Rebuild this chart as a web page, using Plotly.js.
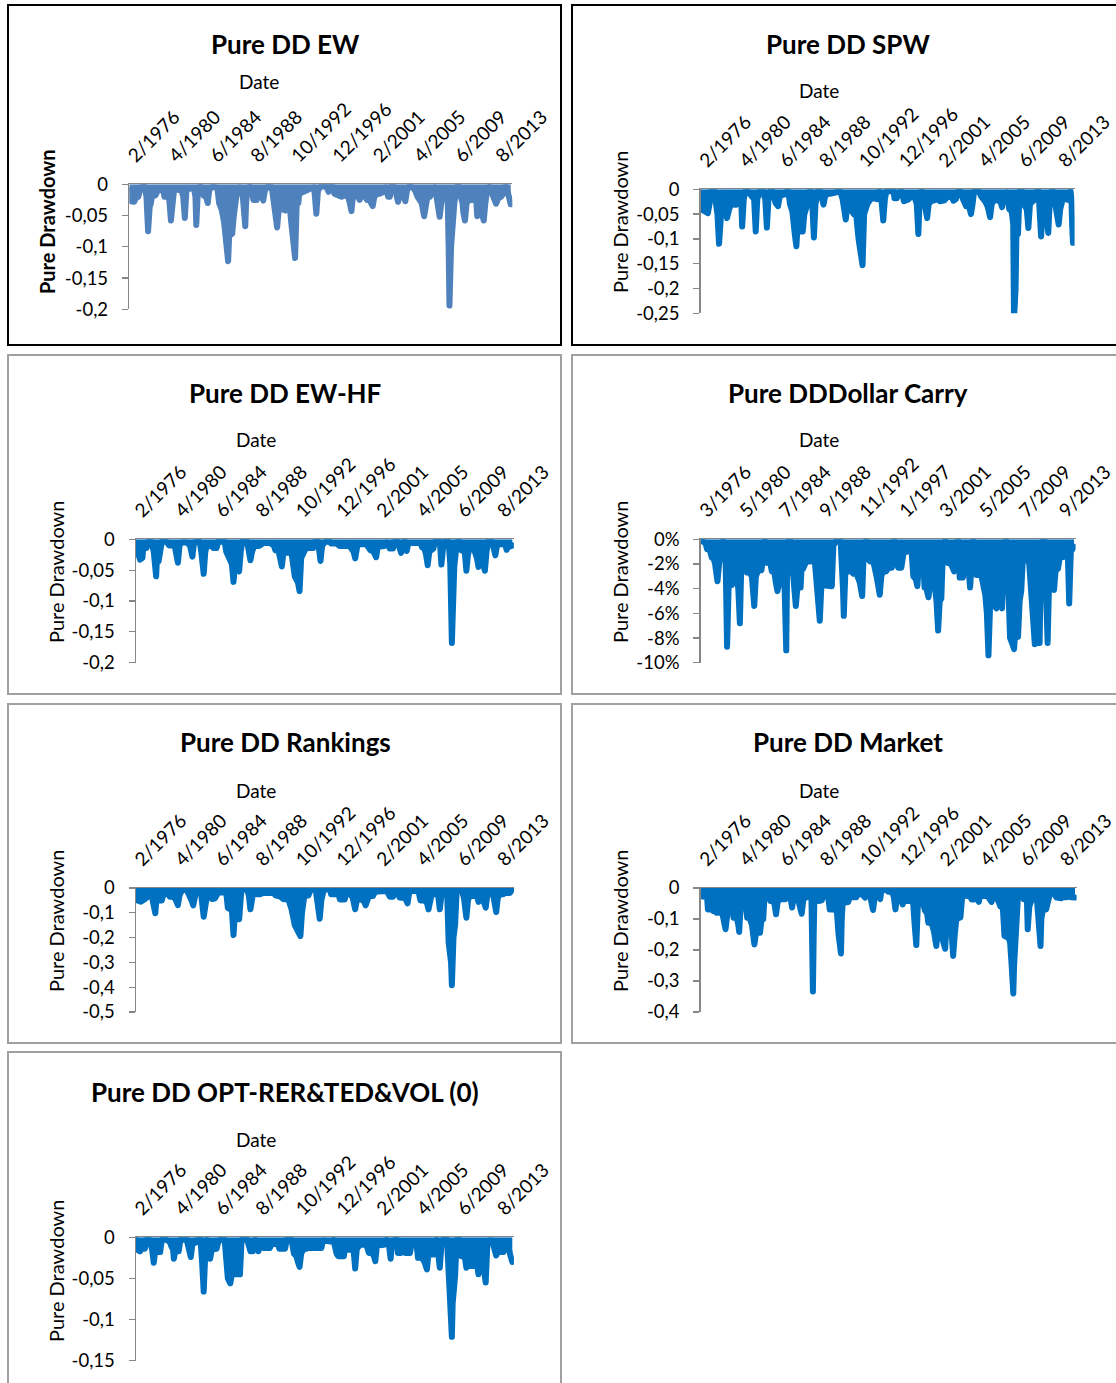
<!DOCTYPE html>
<html>
<head>
<meta charset="utf-8">
<script src="https://cdn.plot.ly/plotly-3.0.1.min.js"></script>
<style>html,body{margin:0;padding:0;background:#fff;}#chart{width:1116px;height:1383px;}</style>
</head>
<body>
<div id="chart"></div>
<script>
// ---------- x tick labels (monthly category axis, one label every 50 months) ----------
const tickMonths = [0, 50, 100, 150, 200, 250, 300, 350, 400, 450];
const tickLabelsFeb = ['2/1976','4/1980','6/1984','8/1988','10/1992','12/1996','2/2001','4/2005','6/2009','8/2013'];
const tickLabelsMar = ['3/1976','5/1980','7/1984','9/1988','11/1992','1/1997','3/2001','5/2005','7/2009','9/2013'];

// ---------- y ticks ----------
const yTicksA = [0, -0.05, -0.1, -0.15, -0.2];
const yTextA = ['0', '-0,05', '-0,1', '-0,15', '-0,2'];
const yTicksSPW = [0, -0.05, -0.1, -0.15, -0.2, -0.25];
const yTextSPW = ['0', '-0,05', '-0,1', '-0,15', '-0,2', '-0,25'];
const yTicksCarry = [0, -2, -4, -6, -8, -10];
const yTextCarry = ['0%', '-2%', '-4%', '-6%', '-8%', '-10%'];
const yTicksRank = [0, -0.1, -0.2, -0.3, -0.4, -0.5];
const yTextRank = ['0', '-0,1', '-0,2', '-0,3', '-0,4', '-0,5'];
const yTicksMkt = [0, -0.1, -0.2, -0.3, -0.4];
const yTextMkt = ['0', '-0,1', '-0,2', '-0,3', '-0,4'];
const yTicksOpt = [0, -0.05, -0.1, -0.15];
const yTextOpt = ['0', '-0,05', '-0,1', '-0,15'];

// ---------- Pure DD EW (month index from first month, drawdown) ----------
const ewMonth = [0,2,6,8,11,14,17,19,21,23,25,26,28,32,35,38,42,43,47,49,51,53,55,57,62,64,66,68,70,75,79,81,82,84,87,89,91,94,96,98,102,106,108,110,113,116,119,121,123,125,126,128,130,132,135,137,139,142,143,145,148,150,152,156,158,160,164,166,170,173,175,177,179,181,183,185,187,191,193,196,199,203,205,207,208,213,217,223,226,227,229,231,234,241,242,244,246,249,251,255,260,264,268,270,272,274,276,280,282,284,287,291,293,296,298,300,304,307,311,314,316,317,319,321,324,326,329,331,333,336,338,340,343,347,350,353,356,358,361,363,365,368,371,374,375,377,379,380,382,385,388,390,391,392,394,396,398,401,404,406,408,409,411,413,416,420,423,425,426,428,430,432,434,436,438,441,443,446,449,452,455,458,459,461,463,465,467];
const ewDD = [-0.01,-0.027,-0.028,-0.022,-0.02,-0.005,-0.004,-0.004,-0.02,-0.075,-0.035,-0.033,-0.018,-0.018,-0.01,-0.008,-0.012,-0.02,-0.02,-0.025,-0.058,-0.03,-0.006,-0.008,-0.008,-0.01,-0.02,-0.054,-0.008,-0.006,-0.006,-0.02,-0.065,-0.01,-0.003,-0.006,-0.018,-0.02,-0.03,-0.008,-0.004,-0.005,-0.008,-0.03,-0.04,-0.06,-0.09,-0.123,-0.06,-0.08,-0.079,-0.05,-0.035,-0.01,-0.005,-0.008,-0.02,-0.067,-0.03,-0.005,-0.004,-0.01,-0.025,-0.025,-0.008,-0.012,-0.026,-0.01,-0.003,-0.003,-0.01,-0.03,-0.04,-0.069,-0.04,-0.02,-0.04,-0.042,-0.03,-0.03,-0.07,-0.118,-0.03,-0.03,-0.015,-0.013,-0.01,-0.006,-0.005,-0.015,-0.047,-0.01,-0.004,-0.003,-0.01,-0.012,-0.004,-0.004,-0.015,-0.017,-0.02,-0.018,-0.02,-0.03,-0.043,-0.015,-0.01,-0.02,-0.025,-0.02,-0.012,-0.025,-0.022,-0.03,-0.035,-0.02,-0.015,-0.015,-0.012,-0.005,-0.015,-0.02,-0.02,-0.003,-0.004,-0.01,-0.028,-0.02,-0.01,-0.02,-0.027,-0.01,-0.003,-0.005,-0.01,-0.02,-0.025,-0.03,-0.051,-0.035,-0.02,-0.02,-0.012,-0.005,-0.01,-0.025,-0.035,-0.052,-0.03,-0.01,-0.008,-0.03,-0.1,-0.194,-0.1,-0.046,-0.03,-0.004,-0.004,-0.02,-0.03,-0.045,-0.058,-0.03,-0.025,-0.025,-0.02,-0.03,-0.051,-0.03,-0.04,-0.05,-0.058,-0.03,-0.01,-0.004,-0.01,-0.02,-0.031,-0.022,-0.02,-0.015,-0.008,-0.003,-0.01,-0.02,-0.032];

// ---------- Pure DD SPW ----------
const spwMonth = [0,1,4,8,9,11,13,17,19,21,23,25,26,29,31,33,35,36,39,42,43,45,47,49,51,52,54,56,59,62,65,67,69,71,74,78,81,83,85,87,90,92,94,97,99,102,106,108,110,112,115,118,120,122,125,126,128,130,133,136,138,140,142,144,147,150,152,154,156,158,165,171,175,178,180,182,184,186,189,192,193,195,198,201,203,205,207,209,213,217,221,224,226,227,229,231,233,242,243,246,248,252,255,258,261,264,268,271,273,275,278,280,284,286,289,294,297,300,306,308,311,314,317,320,323,326,329,333,336,339,341,343,349,352,357,360,363,365,369,374,376,378,380,384,387,390,392,393,395,396,398,400,403,405,408,409,411,413,416,420,422,424,425,427,429,432,434,436,438,440,442,444,447,449,451,454,458,462,464,465,466,467];
const spwDD = [-0.02,-0.041,-0.043,-0.045,-0.048,-0.03,-0.004,-0.004,-0.02,-0.05,-0.11,-0.05,-0.04,-0.04,-0.03,-0.058,-0.04,-0.038,-0.03,-0.01,-0.031,-0.031,-0.02,-0.015,-0.03,-0.075,-0.02,-0.004,-0.004,-0.01,-0.015,-0.02,-0.085,-0.02,-0.004,-0.004,-0.02,-0.077,-0.02,-0.004,-0.004,-0.026,-0.028,-0.034,-0.015,-0.012,-0.01,-0.004,-0.004,-0.03,-0.045,-0.09,-0.115,-0.06,-0.07,-0.085,-0.085,-0.05,-0.035,-0.005,-0.004,-0.03,-0.097,-0.03,-0.004,-0.004,-0.02,-0.031,-0.015,-0.01,-0.008,-0.004,-0.004,-0.02,-0.04,-0.061,-0.03,-0.035,-0.048,-0.05,-0.048,-0.05,-0.1,-0.13,-0.153,-0.05,-0.034,-0.03,-0.02,-0.018,-0.02,-0.004,-0.01,-0.03,-0.063,-0.02,-0.004,-0.004,-0.018,-0.018,-0.006,-0.004,-0.024,-0.022,-0.02,-0.014,-0.014,-0.03,-0.09,-0.006,-0.005,-0.02,-0.058,-0.03,-0.024,-0.022,-0.01,-0.024,-0.022,-0.018,-0.014,-0.012,-0.023,-0.02,-0.004,-0.004,-0.02,-0.034,-0.03,-0.05,-0.03,-0.004,-0.004,-0.015,-0.025,-0.035,-0.056,-0.03,-0.02,-0.022,-0.025,-0.036,-0.01,-0.006,-0.04,-0.044,-0.07,-0.26,-0.2,-0.09,-0.09,-0.004,-0.004,-0.03,-0.035,-0.04,-0.078,-0.03,-0.025,-0.02,-0.004,-0.004,-0.04,-0.095,-0.035,-0.04,-0.06,-0.088,-0.02,-0.004,-0.004,-0.03,-0.045,-0.071,-0.04,-0.02,-0.02,-0.022,-0.004,-0.02,-0.075,-0.108];

// ---------- Pure DD EW-HF ----------
const ewhfMonth = [0,2,5,8,9,13,15,19,22,25,26,28,30,32,38,41,48,50,52,54,57,63,67,70,72,75,79,81,84,86,88,90,94,96,100,102,110,112,115,119,121,123,125,128,130,132,138,141,142,144,147,151,154,158,166,171,173,177,179,181,183,187,193,197,201,203,205,208,211,220,222,226,228,229,231,235,241,242,249,253,265,270,272,274,275,286,291,294,298,300,303,308,311,315,319,321,325,327,329,331,334,336,338,340,353,355,358,360,362,364,367,369,371,377,378,379,381,383,388,390,392,393,395,397,399,402,404,408,410,412,414,419,421,423,425,426,429,431,433,435,437,442,443,446,448,452,458,460,462,464,467];
const ewhfDD = [-0.01,-0.02,-0.033,-0.03,-0.014,-0.014,-0.004,-0.004,-0.02,-0.06,-0.03,-0.036,-0.02,-0.004,-0.004,-0.01,-0.01,-0.02,-0.038,-0.01,-0.005,-0.005,-0.01,-0.028,-0.005,-0.004,-0.004,-0.02,-0.056,-0.02,-0.01,-0.011,-0.011,-0.014,-0.014,-0.004,-0.004,-0.02,-0.03,-0.04,-0.069,-0.04,-0.045,-0.052,-0.02,-0.004,-0.004,-0.02,-0.034,-0.02,-0.01,-0.011,-0.01,-0.006,-0.006,-0.01,-0.018,-0.019,-0.03,-0.044,-0.02,-0.022,-0.022,-0.06,-0.07,-0.084,-0.03,-0.02,-0.014,-0.014,-0.004,-0.004,-0.02,-0.035,-0.01,-0.004,-0.004,-0.007,-0.007,-0.011,-0.011,-0.02,-0.031,-0.01,-0.008,-0.008,-0.018,-0.018,-0.029,-0.012,-0.011,-0.011,-0.005,-0.015,-0.015,-0.004,-0.004,-0.015,-0.022,-0.005,-0.004,-0.019,-0.006,-0.006,-0.006,-0.013,-0.015,-0.025,-0.042,-0.02,-0.015,-0.015,-0.004,-0.004,-0.02,-0.041,-0.015,-0.004,-0.004,-0.04,-0.168,-0.08,-0.044,-0.02,-0.004,-0.004,-0.018,-0.02,-0.051,-0.025,-0.014,-0.014,-0.02,-0.03,-0.045,-0.03,-0.03,-0.04,-0.051,-0.02,-0.004,-0.004,-0.01,-0.026,-0.01,-0.008,-0.008,-0.017,-0.01,-0.012,-0.01];

// ---------- Pure DD Dollar Carry (percent) ----------
const carryMonth = [0,4,6,8,11,14,16,18,21,23,25,26,28,31,33,35,39,41,42,45,47,49,51,56,58,61,64,67,69,72,76,78,80,82,87,89,92,94,96,99,103,105,107,108,110,112,115,117,119,121,125,126,128,132,137,139,141,143,145,147,149,151,158,159,164,166,170,175,176,178,179,181,189,191,195,199,202,204,207,208,212,216,220,224,226,228,232,235,239,241,242,244,247,251,254,258,259,263,266,269,271,274,276,278,280,282,285,287,289,292,295,297,299,301,303,306,308,311,313,315,317,319,322,324,328,330,335,337,339,341,342,345,351,353,356,358,360,362,368,370,374,375,377,379,382,385,387,390,392,393,395,397,399,401,403,406,409,411,413,416,418,421,424,425,427,430,432,434,436,439,441,442,444,447,449,451,455,458,459,461,463,467];
const carryDD = [-0.1,-0.2,-0.3,-0.8,-0.8,-1.5,-1.5,-2.0,-3.4,-2.0,-0.8,-0.7,-0.1,-1.0,-8.7,-3.7,-3.7,-2.8,-2.8,-3.0,-4.0,-6.8,-1.5,-1.5,-2.7,-2.7,-3.0,-5.4,-3.0,-2.5,-2.5,-1.5,-0.1,-1.9,-1.9,-2.6,-2.6,-3.5,-4.2,-3.2,-3.2,-4.0,-9.0,-3.0,-0.1,-0.1,-2.5,-4.0,-5.4,-3.9,-3.9,-2.5,-2.4,-1.8,-1.8,-1.0,-1.0,-2.0,-4.0,-6.0,-6.6,-3.7,-3.7,-3.8,-3.8,-0.5,-0.1,-0.1,-1.0,-4.0,-6.2,-2.6,-2.6,-2.8,-2.8,-3.5,-4.6,-1.0,-0.1,-1.5,-1.8,-1.8,-3.0,-4.5,-3.0,-2.6,-2.6,-2.3,-2.3,-1.8,-0.1,-1.5,-2.3,-2.3,-1.0,-1.0,-0.3,-0.3,-3.0,-3.2,-3.8,-1.2,-0.3,-1.0,-3.9,-3.9,-4.7,-3.5,-3.4,-3.4,-5.0,-7.4,-5.0,-4.8,-1.0,-0.1,-1.9,-1.9,-2.0,-2.3,-2.6,-1.0,-0.1,-3.1,-3.1,-2.3,-2.3,-3.9,-1.0,-0.1,-1.5,-2.9,-2.9,-3.5,-4.5,-6.0,-9.4,-5.4,-5.4,-5.6,-4.5,-5.0,-5.6,-2.0,-0.1,-4.0,-8.0,-8.5,-8.9,-8.0,-7.9,-7.9,-5.0,-4.2,-1.6,-1.6,-1.6,-2.0,-4.5,-7.0,-8.5,-8.4,-8.4,-4.0,-0.2,-0.1,-3.0,-8.4,-3.0,-2.8,-3.0,-4.1,-2.5,-2.4,-1.5,-1.5,-1.4,-1.0,-0.5,-5.2,-1.0,-0.6];

// ---------- Pure DD Rankings ----------
const rankMonth = [0,2,6,9,11,13,15,18,20,22,24,25,27,32,34,38,41,42,46,49,52,54,57,63,67,69,71,73,75,79,81,84,86,88,92,94,98,100,102,108,110,112,114,119,121,123,125,126,128,130,131,138,140,142,144,146,148,150,154,158,171,173,179,183,189,193,197,199,201,204,206,208,209,214,217,223,225,228,230,233,241,242,249,250,253,259,261,265,269,272,274,275,280,283,285,287,289,294,297,308,312,315,319,322,325,327,334,337,339,342,348,351,353,358,361,363,365,367,371,373,375,377,379,381,386,388,391,392,394,396,398,404,407,408,410,412,414,421,424,425,427,429,432,434,436,437,442,444,447,449,452,456,458,460,464,467];
const rankDD = [-0.01,-0.05,-0.055,-0.052,-0.045,-0.04,-0.008,-0.008,-0.04,-0.07,-0.102,-0.06,-0.05,-0.05,-0.025,-0.025,-0.008,-0.035,-0.035,-0.045,-0.069,-0.03,-0.008,-0.008,-0.03,-0.05,-0.07,-0.03,-0.006,-0.006,-0.03,-0.116,-0.05,-0.032,-0.032,-0.044,-0.042,-0.03,-0.018,-0.018,-0.006,-0.02,-0.08,-0.09,-0.19,-0.09,-0.1,-0.11,-0.126,-0.04,-0.006,-0.006,-0.03,-0.086,-0.03,-0.006,-0.006,-0.025,-0.025,-0.02,-0.02,-0.03,-0.035,-0.045,-0.045,-0.085,-0.15,-0.16,-0.18,-0.194,-0.1,-0.065,-0.03,-0.03,-0.006,-0.006,-0.05,-0.124,-0.05,-0.006,-0.006,-0.025,-0.025,-0.006,-0.046,-0.046,-0.02,-0.02,-0.04,-0.086,-0.05,-0.046,-0.046,-0.055,-0.07,-0.04,-0.032,-0.032,-0.015,-0.012,-0.015,-0.035,-0.035,-0.006,-0.01,-0.038,-0.04,-0.062,-0.02,-0.012,-0.012,-0.02,-0.05,-0.05,-0.06,-0.086,-0.04,-0.025,-0.025,-0.006,-0.03,-0.086,-0.03,-0.006,-0.006,-0.22,-0.3,-0.392,-0.2,-0.15,-0.01,-0.006,-0.04,-0.08,-0.12,-0.05,-0.032,-0.032,-0.04,-0.056,-0.04,-0.04,-0.06,-0.079,-0.03,-0.018,-0.018,-0.04,-0.097,-0.04,-0.025,-0.025,-0.01,-0.02,-0.02,-0.004];

// ---------- Pure DD Market ----------
const mktMonth = [0,4,8,9,14,16,18,20,25,26,28,31,33,35,37,39,41,45,47,48,50,51,53,55,58,61,64,67,69,74,76,78,80,84,87,89,92,94,96,99,106,108,109,111,112,114,116,118,120,123,126,128,130,133,136,138,139,140,141,142,144,147,151,153,159,161,168,170,172,175,176,178,180,184,186,194,196,201,203,205,207,209,211,213,215,217,220,222,224,225,228,232,234,239,241,243,245,247,249,250,252,254,256,263,265,267,269,271,274,277,280,282,284,288,291,292,294,296,298,300,303,305,307,308,311,313,315,317,319,324,325,327,330,332,336,338,341,342,344,347,349,351,358,361,363,365,367,369,371,374,377,379,384,386,388,390,391,392,394,396,400,403,407,408,410,413,415,417,419,421,424,425,427,431,434,436,440,442,444,450,452,454,457,458,460,462,467];
const mktDD = [-0.026,-0.028,-0.03,-0.069,-0.069,-0.075,-0.075,-0.08,-0.08,-0.069,-0.09,-0.133,-0.09,-0.035,-0.035,-0.04,-0.096,-0.096,-0.12,-0.142,-0.05,-0.006,-0.006,-0.025,-0.096,-0.096,-0.12,-0.182,-0.144,-0.144,-0.1,-0.1,-0.01,-0.006,-0.042,-0.042,-0.05,-0.085,-0.045,-0.036,-0.036,-0.03,-0.015,-0.006,-0.03,-0.063,-0.03,-0.006,-0.02,-0.05,-0.083,-0.04,-0.03,-0.03,-0.006,-0.006,-0.2,-0.334,-0.15,-0.006,-0.006,-0.042,-0.04,-0.026,-0.026,-0.069,-0.069,-0.08,-0.15,-0.211,-0.1,-0.01,-0.047,-0.045,-0.03,-0.03,-0.02,-0.02,-0.025,-0.031,-0.015,-0.015,-0.02,-0.04,-0.071,-0.03,-0.02,-0.02,-0.036,-0.015,-0.006,-0.006,-0.012,-0.012,-0.03,-0.069,-0.03,-0.026,-0.026,-0.035,-0.053,-0.04,-0.042,-0.042,-0.046,-0.12,-0.184,-0.05,-0.046,-0.046,-0.074,-0.074,-0.112,-0.112,-0.14,-0.17,-0.187,-0.12,-0.1,-0.15,-0.19,-0.196,-0.1,-0.069,-0.069,-0.15,-0.219,-0.15,-0.1,-0.095,-0.05,-0.006,-0.01,-0.026,-0.026,-0.037,-0.037,-0.02,-0.03,-0.045,-0.02,-0.026,-0.026,-0.035,-0.045,-0.02,-0.02,-0.02,-0.04,-0.06,-0.065,-0.155,-0.16,-0.175,-0.25,-0.34,-0.25,-0.18,-0.16,-0.02,-0.006,-0.036,-0.036,-0.133,-0.06,-0.04,-0.02,-0.006,-0.02,-0.1,-0.187,-0.1,-0.069,-0.069,-0.02,-0.015,-0.015,-0.02,-0.031,-0.033,-0.02,-0.03,-0.03,-0.02,-0.02,-0.03,-0.031];

// ---------- Pure DD OPT-RER&TED&VOL (0) ----------
const optMonth = [0,1,5,7,11,13,17,20,22,24,25,30,32,38,42,44,46,47,49,50,53,55,63,65,68,70,75,77,80,82,84,86,88,90,92,94,96,100,102,104,110,112,114,117,119,121,126,129,131,138,140,142,145,148,150,152,154,158,166,169,171,176,178,185,187,193,196,199,201,203,205,208,211,214,230,232,242,245,249,251,258,259,261,270,272,274,278,286,289,292,295,297,299,303,308,311,314,316,318,322,324,325,329,332,334,340,342,348,350,355,358,361,363,365,369,371,373,375,377,379,381,386,388,390,392,393,396,398,402,404,408,410,412,414,419,422,425,426,429,432,434,436,437,442,444,447,449,452,456,458,460,462,464,467];
const optDD = [-0.003,-0.015,-0.017,-0.014,-0.014,-0.003,-0.003,-0.015,-0.031,-0.015,-0.018,-0.018,-0.003,-0.003,-0.006,-0.011,-0.015,-0.026,-0.015,-0.017,-0.017,-0.003,-0.003,-0.01,-0.024,-0.008,-0.006,-0.002,-0.002,-0.03,-0.066,-0.02,-0.003,-0.01,-0.026,-0.015,-0.014,-0.014,-0.006,-0.003,-0.003,-0.04,-0.05,-0.056,-0.045,-0.045,-0.045,-0.045,-0.003,-0.003,-0.01,-0.017,-0.017,-0.003,-0.008,-0.017,-0.005,-0.013,-0.013,-0.006,-0.008,-0.008,-0.014,-0.014,-0.003,-0.003,-0.02,-0.023,-0.03,-0.036,-0.02,-0.014,-0.014,-0.013,-0.013,-0.004,-0.005,-0.003,-0.02,-0.023,-0.023,-0.014,-0.015,-0.015,-0.038,-0.014,-0.009,-0.009,-0.019,-0.019,-0.022,-0.029,-0.01,-0.009,-0.009,-0.003,-0.01,-0.026,-0.005,-0.003,-0.003,-0.019,-0.019,-0.005,-0.019,-0.019,-0.007,-0.007,-0.025,-0.025,-0.03,-0.039,-0.02,-0.021,-0.021,-0.005,-0.003,-0.02,-0.037,-0.01,-0.003,-0.003,-0.047,-0.08,-0.121,-0.08,-0.047,-0.003,-0.003,-0.023,-0.023,-0.037,-0.03,-0.035,-0.035,-0.025,-0.045,-0.02,-0.02,-0.04,-0.055,-0.01,-0.004,-0.004,-0.01,-0.022,-0.018,-0.018,-0.018,-0.005,-0.008,-0.01,-0.02,-0.03];

// ---------- page geometry (pixels) ----------
const W = 1116, H = 1383;
const FONT = 'Lato, "Open Sans", sans-serif';
const px = x => x / W;
const py = y => 1 - y / H;
const LAST = 467, XMAX = 469;

const panels = [
  {title:'Pure DD EW', m:ewMonth, v:ewDD, color:'#4F81BD', L:129.3, R:510.7, top:184.3, bot:309.3, yr:[-0.2,0], yt:yTicksA, ytt:yTextA, xl:tickLabelsFeb, tx:285, ty:44, dx:259, dy:82, ax:47, ay:222, boldY:true},
  {title:'Pure DD SPW', m:spwMonth, v:spwDD, color:'#0070C0', L:700.7, R:1073, top:189.3, bot:313.3, yr:[-0.25,0], yt:yTicksSPW, ytt:yTextSPW, xl:tickLabelsFeb, tx:848, ty:44, dx:819, dy:91, ax:620, ay:222},
  {title:'Pure DD EW-HF', m:ewhfMonth, v:ewhfDD, color:'#0070C0', L:136, R:512.3, top:539.3, bot:662.7, yr:[-0.2,0], yt:yTicksA, ytt:yTextA, xl:tickLabelsFeb, tx:285, ty:393, dx:256, dy:440, ax:56, ay:572},
  {title:'Pure DDDollar Carry', m:carryMonth, v:carryDD, color:'#0070C0', L:700.7, R:1074, top:539.3, bot:662.7, yr:[-10,0], yt:yTicksCarry, ytt:yTextCarry, xl:tickLabelsMar, tx:848, ty:393, dx:819, dy:440, ax:620, ay:572},
  {title:'Pure DD Rankings', m:rankMonth, v:rankDD, color:'#0070C0', L:136, R:512.3, top:888, bot:1012, yr:[-0.5,0], yt:yTicksRank, ytt:yTextRank, xl:tickLabelsFeb, tx:285, ty:742, dx:256, dy:790, ax:56, ay:921},
  {title:'Pure DD Market', m:mktMonth, v:mktDD, color:'#0070C0', L:700.7, R:1075, top:888, bot:1012, yr:[-0.4,0], yt:yTicksMkt, ytt:yTextMkt, xl:tickLabelsFeb, tx:848, ty:742, dx:819, dy:790, ax:620, ay:921},
  {title:'Pure DD OPT-RER&amp;TED&amp;VOL (0)', m:optMonth, v:optDD, color:'#0070C0', L:136, R:512.3, top:1237.3, bot:1360.7, yr:[-0.15,0], yt:yTicksOpt, ytt:yTextOpt, xl:tickLabelsFeb, tx:285, ty:1092, dx:256, dy:1139, ax:56, ay:1271}
];

const boxes = [
  {x0:8, y0:5, x1:561, y1:345, c:'#000000', w:2},
  {x0:572, y0:5, x1:1130, y1:345, c:'#000000', w:2},
  {x0:8, y0:355, x1:561, y1:694, c:'#a0a0a0', w:2},
  {x0:572, y0:355, x1:1130, y1:694, c:'#a0a0a0', w:2},
  {x0:8, y0:704, x1:561, y1:1043, c:'#a0a0a0', w:2},
  {x0:572, y0:704, x1:1130, y1:1043, c:'#a0a0a0', w:2},
  {x0:8, y0:1052, x1:561, y1:1400, c:'#a0a0a0', w:2}
];

const data = [];
const layout = {
  width: W, height: H,
  margin: {l:0, r:0, t:0, b:0, pad:0},
  paper_bgcolor: '#ffffff', plot_bgcolor: 'rgba(0,0,0,0)',
  showlegend: false,
  font: {family: FONT, color: '#000000'},
  annotations: [], shapes: []
};

panels.forEach((p, i) => {
  const n = i === 0 ? '' : String(i + 1);
  const s = (p.R - p.L) / LAST;
  data.push({
    type: 'scatter', mode: 'lines', x: p.m, y: p.v,
    xaxis: 'x' + n, yaxis: 'y' + n,
    line: {color: p.color, width: 6},
    fill: 'tozeroy', fillcolor: p.color,
    hoverinfo: 'skip'
  });
  layout['xaxis' + n] = {
    domain: [px(p.L), px(p.L + s * XMAX)],
    range: [0, XMAX], anchor: 'y' + n, side: 'top',
    showgrid: false, zeroline: false, showline: true, linecolor: '#868686', linewidth: 1.3,
    ticks: '', tickmode: 'array', tickvals: tickMonths, ticktext: p.xl,
    tickangle: -45, ticklabelstandoff: 9,
    tickfont: {family: FONT, size: 19, color: '#000'}, fixedrange: true
  };
  layout['yaxis' + n] = {
    domain: [py(p.bot), py(p.top)],
    range: p.yr, anchor: 'x' + n,
    showgrid: false, zeroline: false, showline: true, linecolor: '#868686', linewidth: 1.5,
    ticks: 'outside', ticklen: 6, tickcolor: '#868686', tickwidth: 1.3,
    tickmode: 'array', tickvals: p.yt, ticktext: p.ytt, ticklabelstandoff: 10,
    tickfont: {family: FONT, size: 18.5, color: '#000'}, fixedrange: true
  };
  layout.annotations.push(
    {text: '<b>' + p.title + '</b>', x: px(p.tx), y: py(p.ty), xref: 'paper', yref: 'paper', xanchor: 'center', yanchor: 'middle', showarrow: false, font: {family: FONT, size: 26, color: '#000'}},
    {text: 'Date', x: px(p.dx), y: py(p.dy), xref: 'paper', yref: 'paper', xanchor: 'center', yanchor: 'middle', showarrow: false, font: {family: FONT, size: 19, color: '#000'}},
    {text: p.boldY ? '<b>Pure Drawdown</b>' : 'Pure Drawdown', x: px(p.ax), y: py(p.ay), xref: 'paper', yref: 'paper', xanchor: 'center', yanchor: 'middle', textangle: -90, showarrow: false, font: {family: FONT, size: 20, color: '#000'}}
  );
});

boxes.forEach(b => {
  layout.shapes.push({type: 'rect', xref: 'paper', yref: 'paper', x0: px(b.x0), x1: px(b.x1), y0: py(b.y0), y1: py(b.y1), line: {color: b.c, width: b.w}, fillcolor: 'rgba(0,0,0,0)', layer: 'below'});
});

Plotly.newPlot('chart', data, layout, {staticPlot: true, displayModeBar: false}).then(gd => {
  // Excel-style rounded line ends and joins
  gd.querySelectorAll('.scatterlayer path.js-line').forEach(el => {
    el.style.strokeLinejoin = 'round';
    el.style.strokeLinecap = 'round';
  });
});
</script>
</body>
</html>
